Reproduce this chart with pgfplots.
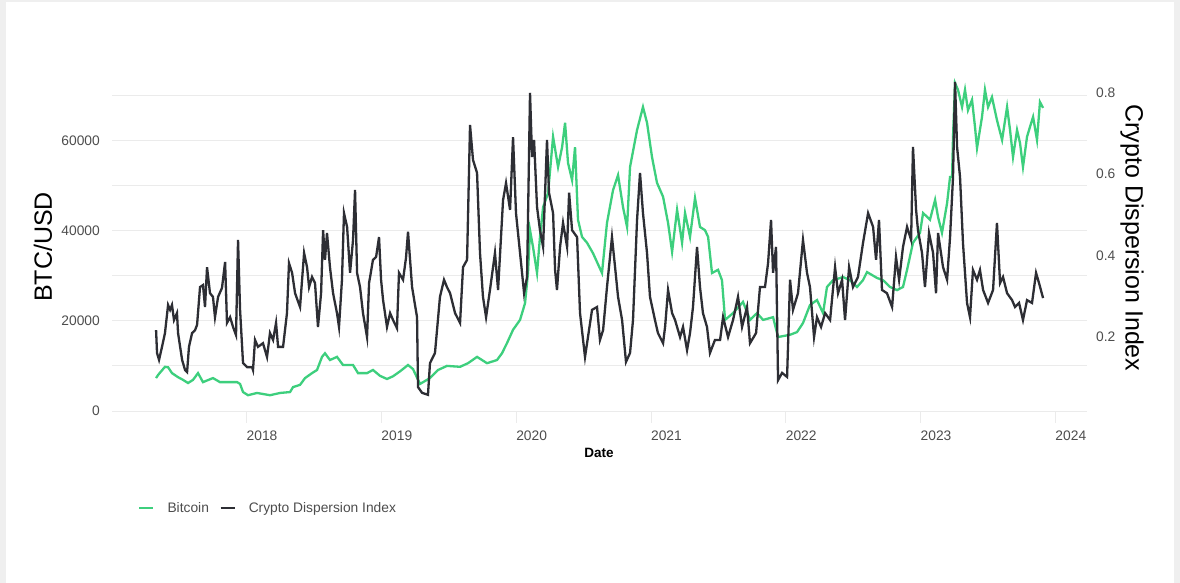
\documentclass[border=0pt]{standalone}
\usepackage{fontspec}
\setmainfont{Liberation Sans}
\usepackage{pgfplots}
\pgfplotsset{compat=1.18}
\definecolor{btc}{RGB}{61,207,125}
\definecolor{cdi}{RGB}{45,46,52}
\definecolor{gridc}{RGB}{235,235,235}
\definecolor{tickc}{RGB}{77,77,77}
\definecolor{framec}{RGB}{239,239,239}
\newcommand{\tickfont}{\fontsize{13.8}{16}\selectfont}
\begin{document}
\begin{tikzpicture}[x=1pt,y=1pt]
\fill[framec] (0,0) rectangle (1180,583);
\fill[white] (6,0) rectangle (1174,581);
\begin{axis}[
  at={(112pt,160pt)}, anchor=south west,
  width=975pt, height=345pt, scale only axis,
  xmin=2016.887, xmax=2024.12,
  ymin=-2660, ymax=73836,
  axis line style={draw=none},
  ytick={0,20000,40000,60000},
  minor ytick={10000,30000,50000,70000},
  ymajorgrids, yminorgrids,
  major grid style={gridc, line width=1pt},
  minor grid style={gridc, line width=1pt},
  ytick style={draw=none},
  minor tick length=0pt,
  xtick={2017.8865,2018.8865,2019.8865,2020.8865,2021.8865,2022.8865,2023.8865},
  xticklabels={2018,2019,2020,2021,2022,2023,2024},
  xtick pos=bottom, tick align=inside,
  major tick length=12pt,
  xtick style={gridc, line width=1pt},
  xticklabel style={xshift=15.3pt, yshift=-8pt, inner sep=0pt, anchor=north, font=\tickfont, text=tickc},
  yticklabel style={inner sep=0pt, anchor=east, xshift=-12pt, font=\tickfont, text=tickc},
  scaled y ticks=false,
  /pgf/number format/.cd, 1000 sep={}, assume math mode=true,
  /pgfplots/.cd,
  legend style={at={(0.0267,-0.2464)}, anchor=west, draw=none, fill=none, inner sep=0pt,
    font=\tickfont, text=tickc, legend columns=-1,
    /tikz/every odd column/.append style={column sep=11pt},
    /tikz/every even column/.append style={column sep=8.5pt}},
  legend image code/.code={\draw[#1, line width=2.3pt] (0pt,0pt) -- (14pt,0pt);},
]
\addplot[btc, line width=2.3pt] coordinates {
(2017.214,7300)(2017.229,8000)(2017.280,9800)(2017.303,9700)(2017.332,8400)(2017.377,7500)(2017.414,6900)(2017.451,6200)(2017.488,6900)(2017.525,8400)(2017.562,6400)(2017.636,7300)(2017.688,6400)(2017.815,6400)(2017.837,6000)(2017.859,4200)(2017.896,3500)(2017.963,4000)(2018.059,3500)(2018.134,4000)(2018.208,4200)(2018.230,5300)(2018.282,5800)(2018.319,7300)(2018.371,8400)(2018.408,9100)(2018.445,12000)(2018.467,12800)(2018.504,11300)(2018.556,12000)(2018.601,10200)(2018.675,10200)(2018.712,8400)(2018.779,8400)(2018.823,9100)(2018.875,7800)(2018.927,7100)(2018.972,7700)(2019.024,8800)(2019.083,10200)(2019.120,9300)(2019.172,6000)(2019.246,7300)(2019.306,9100)(2019.372,10000)(2019.469,9800)(2019.528,10600)(2019.595,12000)(2019.669,10600)(2019.743,11300)(2019.780,12800)(2019.818,15100)(2019.862,18000)(2019.914,20200)(2019.951,23900)(2019.973,30600)(2019.988,40100)(2020.010,36400)(2020.040,30600)(2020.062,38600)(2020.085,45200)(2020.122,48300)(2020.159,60800)(2020.196,54100)(2020.226,58500)(2020.248,63900)(2020.270,55000)(2020.300,51200)(2020.322,58500)(2020.344,42400)(2020.374,38600)(2020.411,37300)(2020.455,35000)(2020.522,30600)(2020.559,41700)(2020.604,49000)(2020.641,52300)(2020.678,45200)(2020.708,40800)(2020.730,54100)(2020.782,62300)(2020.826,67400)(2020.856,63900)(2020.893,56300)(2020.930,50600)(2020.975,47500)(2021.012,41700)(2021.042,35300)(2021.079,44600)(2021.116,37300)(2021.138,43900)(2021.175,38600)(2021.212,47200)(2021.249,40800)(2021.286,40100)(2021.309,38600)(2021.338,30600)(2021.383,31300)(2021.412,29000)(2021.435,20200)(2021.494,21700)(2021.568,24200)(2021.620,20200)(2021.672,21700)(2021.717,20200)(2021.791,20800)(2021.828,16400)(2021.917,16900)(2021.969,17500)(2022.013,19500)(2022.065,23500)(2022.117,24600)(2022.162,21700)(2022.191,27500)(2022.236,29000)(2022.310,29700)(2022.362,29000)(2022.414,27500)(2022.458,29000)(2022.488,30800)(2022.562,29500)(2022.607,29000)(2022.659,27500)(2022.711,26800)(2022.755,27500)(2022.785,31300)(2022.829,37300)(2022.881,39500)(2022.904,43900)(2022.955,42400)(2022.993,46800)(2023.015,43000)(2023.044,39500)(2023.082,46100)(2023.104,51900)(2023.119,51900)(2023.126,60800)(2023.141,72700)(2023.163,71200)(2023.193,67400)(2023.215,71200)(2023.237,66700)(2023.267,69000)(2023.289,63000)(2023.304,58300)(2023.341,65200)(2023.363,71200)(2023.386,67400)(2023.415,69600)(2023.452,64500)(2023.490,60100)(2023.527,67400)(2023.549,62300)(2023.571,56300)(2023.601,62300)(2023.623,59400)(2023.645,54100)(2023.675,60800)(2023.697,63000)(2023.720,65200)(2023.749,60100)(2023.771,68500)(2023.794,67200)
};
\addlegendentry{Bitcoin}
\addlegendimage{cdi, line width=2.3pt}
\addlegendentry{Crypto Dispersion Index}
\end{axis}
\begin{axis}[
  at={(112pt,160pt)}, anchor=south west,
  width=975pt, height=345pt, scale only axis,
  xmin=2016.887, xmax=2024.12,
  ymin=-0.0123, ymax=0.8364,
  axis line style={draw=none},
  xtick=\empty,
  ytick={0.2,0.4,0.6,0.8},
  ytick style={draw=none},
  yticklabel pos=right,
  yticklabel style={inner sep=0pt, anchor=west, xshift=9pt, font=\tickfont, text=tickc,
    /pgf/number format/.cd, fixed, precision=1, assume math mode=true},
]
\addplot[cdi, line width=2.3pt] coordinates {
(2017.214,0.216)(2017.221,0.160)(2017.236,0.143)(2017.258,0.175)(2017.280,0.209)(2017.303,0.278)(2017.318,0.266)(2017.332,0.278)(2017.347,0.241)(2017.369,0.258)(2017.377,0.209)(2017.407,0.143)(2017.429,0.118)(2017.444,0.113)(2017.458,0.175)(2017.481,0.209)(2017.503,0.216)(2017.518,0.229)(2017.540,0.322)(2017.562,0.327)(2017.577,0.273)(2017.592,0.371)(2017.614,0.307)(2017.636,0.298)(2017.651,0.248)(2017.674,0.298)(2017.703,0.320)(2017.726,0.384)(2017.740,0.234)(2017.763,0.248)(2017.785,0.224)(2017.807,0.204)(2017.822,0.438)(2017.837,0.266)(2017.859,0.135)(2017.889,0.125)(2017.926,0.125)(2017.933,0.118)(2017.948,0.192)(2017.970,0.175)(2018.007,0.184)(2018.037,0.150)(2018.059,0.209)(2018.082,0.192)(2018.104,0.234)(2018.119,0.175)(2018.156,0.175)(2018.185,0.258)(2018.200,0.381)(2018.223,0.357)(2018.245,0.307)(2018.282,0.273)(2018.312,0.406)(2018.334,0.371)(2018.349,0.322)(2018.371,0.347)(2018.393,0.332)(2018.415,0.224)(2018.438,0.307)(2018.453,0.462)(2018.467,0.389)(2018.482,0.455)(2018.504,0.371)(2018.527,0.307)(2018.556,0.258)(2018.571,0.224)(2018.593,0.340)(2018.608,0.504)(2018.631,0.470)(2018.653,0.357)(2018.675,0.438)(2018.690,0.561)(2018.705,0.357)(2018.727,0.322)(2018.749,0.258)(2018.779,0.199)(2018.794,0.332)(2018.823,0.389)(2018.846,0.396)(2018.868,0.445)(2018.883,0.340)(2018.898,0.290)(2018.927,0.224)(2018.950,0.258)(2018.972,0.241)(2019.001,0.221)(2019.016,0.357)(2019.046,0.340)(2019.068,0.394)(2019.083,0.458)(2019.113,0.322)(2019.150,0.248)(2019.157,0.076)(2019.187,0.062)(2019.231,0.057)(2019.246,0.135)(2019.283,0.160)(2019.320,0.298)(2019.350,0.340)(2019.372,0.322)(2019.395,0.307)(2019.432,0.258)(2019.469,0.234)(2019.491,0.371)(2019.521,0.389)(2019.543,0.721)(2019.565,0.635)(2019.595,0.603)(2019.617,0.406)(2019.639,0.298)(2019.662,0.248)(2019.691,0.315)(2019.728,0.406)(2019.751,0.315)(2019.788,0.536)(2019.810,0.578)(2019.840,0.512)(2019.862,0.691)(2019.884,0.504)(2019.914,0.406)(2019.944,0.307)(2019.966,0.347)(2019.988,0.800)(2020.003,0.642)(2020.018,0.684)(2020.040,0.519)(2020.062,0.462)(2020.085,0.421)(2020.114,0.684)(2020.129,0.554)(2020.159,0.504)(2020.174,0.364)(2020.188,0.315)(2020.211,0.421)(2020.233,0.480)(2020.263,0.421)(2020.278,0.554)(2020.300,0.462)(2020.337,0.445)(2020.359,0.258)(2020.396,0.150)(2020.418,0.199)(2020.448,0.266)(2020.485,0.273)(2020.507,0.192)(2020.530,0.216)(2020.559,0.322)(2020.596,0.445)(2020.619,0.371)(2020.641,0.298)(2020.671,0.241)(2020.700,0.138)(2020.730,0.160)(2020.752,0.241)(2020.782,0.487)(2020.804,0.603)(2020.826,0.504)(2020.856,0.406)(2020.878,0.298)(2020.915,0.241)(2020.937,0.209)(2020.975,0.184)(2020.990,0.224)(2021.012,0.315)(2021.042,0.258)(2021.064,0.241)(2021.101,0.199)(2021.123,0.224)(2021.153,0.167)(2021.175,0.209)(2021.197,0.273)(2021.227,0.421)(2021.249,0.322)(2021.271,0.258)(2021.301,0.224)(2021.323,0.160)(2021.360,0.192)(2021.398,0.192)(2021.420,0.248)(2021.457,0.199)(2021.494,0.241)(2021.531,0.298)(2021.561,0.224)(2021.598,0.273)(2021.620,0.184)(2021.665,0.209)(2021.694,0.322)(2021.731,0.322)(2021.754,0.381)(2021.776,0.487)(2021.791,0.357)(2021.813,0.421)(2021.828,0.093)(2021.858,0.111)(2021.895,0.101)(2021.917,0.340)(2021.939,0.266)(2021.976,0.307)(2022.013,0.438)(2022.043,0.357)(2022.065,0.322)(2022.095,0.199)(2022.117,0.248)(2022.147,0.224)(2022.177,0.258)(2022.214,0.241)(2022.251,0.371)(2022.273,0.307)(2022.303,0.340)(2022.325,0.241)(2022.355,0.371)(2022.384,0.322)(2022.421,0.347)(2022.458,0.430)(2022.496,0.504)(2022.533,0.470)(2022.555,0.389)(2022.577,0.487)(2022.599,0.315)(2022.636,0.307)(2022.674,0.273)(2022.703,0.396)(2022.726,0.340)(2022.755,0.421)(2022.785,0.470)(2022.815,0.438)(2022.829,0.667)(2022.852,0.512)(2022.866,0.462)(2022.896,0.406)(2022.918,0.322)(2022.948,0.455)(2022.978,0.406)(2023.000,0.307)(2023.015,0.455)(2023.052,0.371)(2023.082,0.340)(2023.104,0.445)(2023.126,0.593)(2023.141,0.827)(2023.156,0.667)(2023.178,0.593)(2023.200,0.430)(2023.230,0.283)(2023.252,0.248)(2023.274,0.364)(2023.304,0.340)(2023.326,0.364)(2023.349,0.315)(2023.386,0.283)(2023.423,0.315)(2023.452,0.480)(2023.475,0.332)(2023.497,0.347)(2023.527,0.307)(2023.564,0.290)(2023.586,0.273)(2023.616,0.283)(2023.645,0.241)(2023.675,0.290)(2023.712,0.283)(2023.742,0.357)(2023.764,0.332)(2023.794,0.295)
};
\end{axis}
\node[rotate=90, font=\fontsize{25}{30}\selectfont] at (43,336) {BTC/USD};
\node[rotate=-90, font=\fontsize{25}{30}\selectfont] at (1132,345) {Crypto Dispersion Index};
\node[font=\bfseries\fontsize{13.5}{16}\selectfont] at (599,130) {Date};
\pgfresetboundingbox
\path (0,0) rectangle (1180,583);
\end{tikzpicture}
\end{document}
